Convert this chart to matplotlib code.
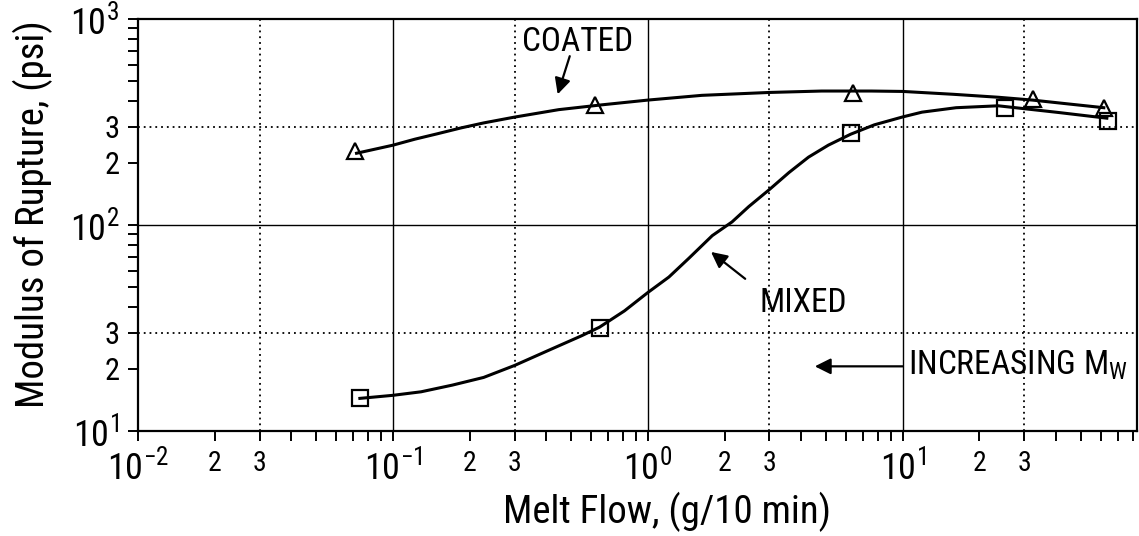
import numpy as np
import matplotlib
matplotlib.use('Agg')
import matplotlib.pyplot as plt
from matplotlib import font_manager
from matplotlib.ticker import FixedLocator, FuncFormatter

# ===== 字体 (narrow sans) =====
names = {f.name for f in font_manager.fontManager.ttflist}
family = 'Liberation Sans'
for cand in ['Nimbus Sans Narrow', 'Liberation Sans Narrow', 'Arial Narrow',
             'Roboto Condensed', 'Archivo Narrow', 'PT Sans Narrow',
             'IBM Plex Sans Condensed', 'Fira Sans Condensed']:
    if cand in names:
        family = cand
        break
plt.rcParams['font.family'] = [family, 'DejaVu Sans']
plt.rcParams['mathtext.fontset'] = 'custom'
plt.rcParams['mathtext.rm'] = family
plt.rcParams['mathtext.default'] = 'regular'

# ===== 数据 =====
# measured points
coated_x = [0.071, 0.62, 6.4, 32.3, 61.5]
coated_y = [228, 383, 435, 408, 371]
mixed_x = [0.074, 0.647, 6.24, 25.3, 63.8]
mixed_y = [14.4, 31.8, 280, 371, 320]

# hand-faired curves through the points
coated_curve_x = [0.072, 0.1, 0.122, 0.149, 0.185, 0.227, 0.3, 0.447, 0.659, 1.0,
                  1.63, 3.0, 4.81, 7.52, 10, 15.8, 23.7, 32.3, 44.6, 61.5]
coated_curve_y = [223, 244, 261, 277, 296, 313, 334, 363, 383, 404,
                  426, 440, 447, 447, 445, 431, 417, 404, 387, 371]
mixed_curve_x = [0.0742, 0.1, 0.129, 0.171, 0.227, 0.3, 0.407, 0.55, 0.646, 0.81,
                 1.0, 1.21, 1.45, 1.79, 2.14, 2.49, 3.0, 3.58, 4.27, 5.11,
                 6.25, 7.74, 10, 11.9, 16.2, 23.7, 40.6, 63.2]
mixed_curve_y = [14.4, 14.9, 15.5, 16.7, 18.2, 20.8, 24.6, 29.0, 31.9, 38.3,
                 47.0, 55.9, 69.0, 88.8, 103.5, 122.9, 148.7, 179.8, 213.5, 244.2,
                 275.9, 306.4, 334.7, 353, 371, 379, 352, 330]

grid_x_solid = [0.1, 1, 10]
grid_x_dotted = [0.03, 0.3, 3, 30]
grid_y_solid = [100]
grid_y_dotted = [30, 300]

# ===== 画图 =====
fig = plt.figure(figsize=(11.39, 5.36), dpi=100)
ax = fig.add_axes([138 / 1139, 105 / 536, 999 / 1139, 412 / 536])
ax.set_xscale('log')
ax.set_yscale('log')
ax.set_xlim(1e-2, 83)
ax.set_ylim(10, 1000)

for v in grid_x_solid:
    ax.axvline(v, color='k', lw=1.0, zorder=1)
for v in grid_x_dotted:
    ax.axvline(v, color='k', lw=1.3, ls=(0, (1, 2.2)), zorder=1)
for v in grid_y_solid:
    ax.axhline(v, color='k', lw=1.0, zorder=1)
for v in grid_y_dotted:
    ax.axhline(v, color='k', lw=1.3, ls=(0, (1, 2.2)), zorder=1)

ax.plot(coated_curve_x, coated_curve_y, color='k', lw=2.2, zorder=3,
        solid_joinstyle='round')
ax.plot(mixed_curve_x, mixed_curve_y, color='k', lw=2.2, zorder=3,
        solid_joinstyle='round')
ax.plot(coated_x, coated_y, ls='none', marker='^', ms=11, mew=1.6,
        mec='k', mfc='none', zorder=4)
ax.plot(mixed_x, mixed_y, ls='none', marker='s', ms=11.5, mew=1.6,
        mec='k', mfc='none', zorder=4)

# ===== 刻度 =====
def decade_label(v, pos):
    return '$10^{%d}$' % int(round(np.log10(v)))

def minor_label(v, pos):
    m = v / 10 ** np.floor(np.log10(v) + 1e-9)
    if abs(m - 2) < 1e-6:
        return '2'
    if abs(m - 3) < 1e-6:
        return '3'
    return ''

x_minor = [k * 10.0 ** d for d in range(-2, 2) for k in range(2, 10) if k * 10.0 ** d < 83]
y_minor = [k * 10.0 ** d for d in range(1, 3) for k in range(2, 10)]

ax.xaxis.set_major_locator(FixedLocator([1e-2, 1e-1, 1, 10]))
ax.xaxis.set_minor_locator(FixedLocator(x_minor))
ax.yaxis.set_major_locator(FixedLocator([10, 100, 1000]))
ax.yaxis.set_minor_locator(FixedLocator(y_minor))
for axis in (ax.xaxis, ax.yaxis):
    axis.set_major_formatter(FuncFormatter(decade_label))
    axis.set_minor_formatter(FuncFormatter(minor_label))

ax.tick_params(which='both', direction='out', length=7.5, width=1.4, pad=6, color='k')
ax.tick_params(which='major', labelsize=26)
ax.tick_params(axis='x', which='minor', labelsize=20)
ax.tick_params(axis='y', which='minor', labelsize=22)
for s in ax.spines.values():
    s.set_linewidth(1.6)

# ===== 标注 =====
arrow = dict(arrowstyle='-|>', color='k', lw=1.6, mutation_scale=24,
             shrinkA=0, shrinkB=0)
ax.text(0.53, 770, 'COATED', fontsize=24, ha='center', va='center')
ax.annotate('', xy=(0.443, 431), xytext=(0.494, 660), arrowprops=arrow)
ax.text(4.06, 41.7, 'MIXED', fontsize=24, ha='center', va='center')
ax.annotate('', xy=(1.77, 74), xytext=(2.41, 54.8), arrowprops=arrow)
ax.text(10.5, 20.8, 'INCREASING M$_W$', fontsize=24, ha='left', va='center')
ax.annotate('', xy=(4.52, 20.6), xytext=(10, 20.6), arrowprops=arrow)

fig.text(44 / 1139, 1 - 214 / 536, 'Modulus of Rupture, (psi)', fontsize=28,
         rotation=90, rotation_mode='anchor', ha='center', va='baseline')
fig.text(667 / 1139, 1 - 523 / 536, 'Melt Flow, (g/10 min)', fontsize=28,
         ha='center', va='baseline')

fig.savefig('out.png', dpi=100)
